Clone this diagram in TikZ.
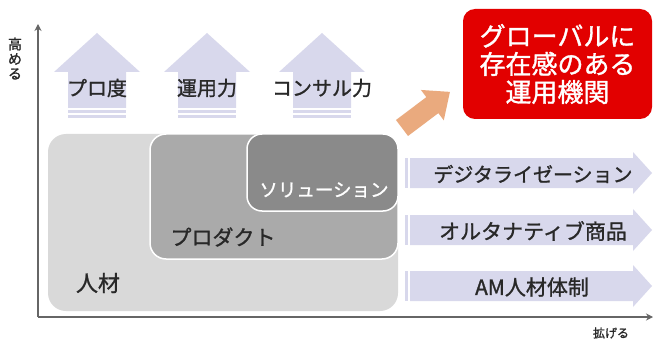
\documentclass[tikz,border=0pt]{standalone}
\usepackage{fontspec}
\setmainfont{Noto Sans CJK JP}
\newfontfamily\jp[FakeBold=1.2]{Noto Sans CJK JP}
\usetikzlibrary{arrows.meta}
\definecolor{lav}{RGB}{216,216,236}
\definecolor{gA}{RGB}{217,217,217}
\definecolor{gB}{RGB}{170,170,170}
\definecolor{gC}{RGB}{138,138,138}
\definecolor{redbox}{RGB}{226,0,0}
\definecolor{orng}{RGB}{234,170,126}
\definecolor{txt}{RGB}{40,40,40}
\tikzset{
  axisline/.style={draw=gray!80!black, line width=1.8pt},
  lbl/.style={text=txt, inner sep=0pt, font=\jp\fontsize{20}{20}\selectfont},
  vlbl/.style={text=txt, inner sep=0pt, font=\jp\fontsize{14}{14}\selectfont},
}
\newcommand{\myup}[1]{%
  \fill[lav] (#1-43,72) -- (#1,33) -- (#1+43,72) -- (#1+29,72) -- (#1+29,108) -- (#1-29,108) -- (#1-29,72) -- cycle;
  \fill[lav] (#1-29,110.5) rectangle (#1+29,113);
  \fill[lav] (#1-29,115.5) rectangle (#1+29,118.5);
}
\newcommand{\myright}[1]{%
  \fill[lav] (410,#1-15) -- (633,#1-15) -- (633,#1-21) -- (652,#1) -- (633,#1+21) -- (633,#1+15) -- (410,#1+15) -- cycle;
  \fill[lav] (405,#1-15) rectangle (408,#1+15);
}
\begin{document}
\begin{tikzpicture}[x=1pt,y=-1pt]
\useasboundingbox (0,0) rectangle (653,342);
\fill[white] (0,0) rectangle (653,342);
% up arrows
\myup{97}
\myup{207}
\myup{322}
\node[lbl] (p1) at (97,88) {プロ度};
\node[lbl] (p2) at (207,88) {運用力};
\node[lbl] (p3) at (322,88) {コンサル力};
% boxes
\fill[gA, rounded corners=18pt] (48,134) rectangle (398,311);
\draw[fill=gB, draw=white, line width=1.5pt, rounded corners=16pt] (150,134) rectangle (398,259);
\draw[fill=gC, draw=white, line width=1.5pt, rounded corners=15pt] (247,134) rectangle (398,211);
\node[lbl, text=white, font=\jp\fontsize{18.5}{18.5}\selectfont] (sol) at (324,190) {ソリューション};
\node[lbl, font=\jp\fontsize{21}{21}\selectfont] (prod) at (223,237) {プロダクト};
\node[lbl, font=\jp\fontsize{22}{22}\selectfont] (jin) at (98,283) {人材};
% right arrows
\myright{173}
\myright{230}
\myright{286}
\node[lbl] (r1) at (533,174) {デジタライゼーション};
\node[lbl, font=\jp\fontsize{21}{21}\selectfont] (r2) at (533,231) {オルタナティブ商品};
\node[lbl, font=\jp\fontsize{21}{21}\selectfont] (r3) at (532,287) {AM人材体制};
% orange arrow
\begin{scope}[shift={(402,128)}, rotate=37]
\fill[orng] (0,-10) -- (38,-10) -- (38,-19) -- (60,0) -- (38,19) -- (38,10) -- (0,10) -- cycle;
\end{scope}
% red box
\node[fill=redbox, rounded corners=12pt, minimum width=189pt, minimum height=110pt, inner sep=0pt] (goal) at (557.5,64) {};
\node[text=white, align=center, font=\jp\fontsize{26}{28}\selectfont, inner sep=0pt] (goalt) at (goal.center) {グローバルに\\存在感のある\\運用機関};
% axes
\coordinate (O) at (38,317);
\coordinate (ytop) at (38,24);
\coordinate (xend) at (653,317);
\draw[axisline, -{Stealth[length=7pt,width=7pt]}] (O) -- (ytop);
\draw[axisline, -{Stealth[length=7pt,width=7pt]}] (O) -- (xend);
\node[vlbl] (ylabA) at (15,44) {高};
\node[vlbl] (ylabB) at (15,59) {め};
\node[vlbl] (ylabC) at (15,74) {る};
\node[text=txt, font=\jp\fontsize{12}{12}\selectfont, inner sep=0pt] (xlab) at (611,333) {拡げる};
\end{tikzpicture}
\end{document}
